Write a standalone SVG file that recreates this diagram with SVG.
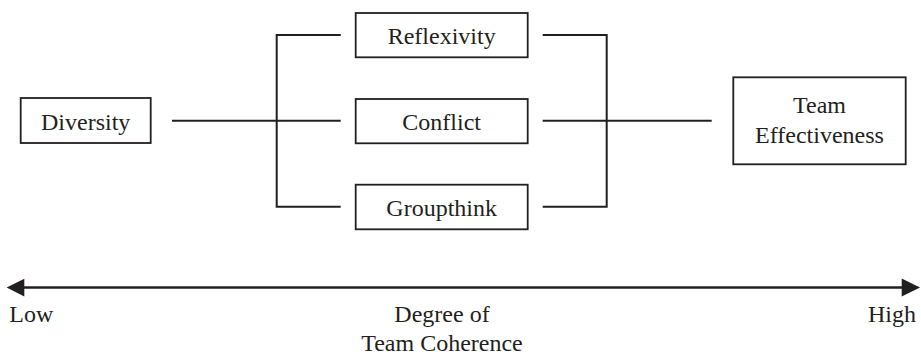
<svg xmlns="http://www.w3.org/2000/svg" width="921" height="354" viewBox="0 0 921 354">
<style>
.box{fill:#fff;stroke:#231f20;stroke-width:1.8}
.t{font-family:"Liberation Serif","Times New Roman",serif;font-size:24px;fill:#231f20;text-anchor:middle}
.b{font-family:"Liberation Serif","Times New Roman",serif;font-size:24px;fill:#231f20}
.c{fill:none;stroke:#231f20;stroke-width:2}
</style>
<rect width="921" height="354" fill="#fff"/>
<g id="connectors">
<path class="c" d="M172,120.7 H340.7"/>
<path class="c" d="M340.7,35 H276.7 V206.7 H340.7"/>
<path class="c" d="M542.7,35 H606.7 V206.7 H542.7"/>
<path class="c" d="M542.7,120.7 H711.7"/>
</g>
<g id="diversity">
<rect class="box" x="20.7" y="98" width="130" height="45"/>
<text class="t" x="85.7" y="130">Diversity</text>
</g>
<g id="reflexivity">
<rect class="box" x="355.7" y="13" width="172" height="44.3"/>
<text class="t" x="441.7" y="43.5">Reflexivity</text>
</g>
<g id="conflict">
<rect class="box" x="355.7" y="99" width="172" height="44.3"/>
<text class="t" x="441.7" y="130">Conflict</text>
</g>
<g id="groupthink">
<rect class="box" x="355.7" y="184.7" width="172" height="44.6"/>
<text class="t" x="441.7" y="215.5">Groupthink</text>
</g>
<g id="team-effectiveness">
<rect class="box" x="733.3" y="77.3" width="172.4" height="87"/>
<text class="t" x="819.5" y="113.3">Team</text>
<text class="t" x="819.5" y="142.7">Effectiveness</text>
</g>
<g id="scale">
<line x1="24" y1="287.5" x2="902" y2="287.5" stroke="#231f20" stroke-width="2.5"/>
<path d="M24.3,278.8 L6.7,287.5 L24.3,296.5 Z" fill="#231f20"/>
<path d="M901.7,278.5 L920,287.5 L901.7,296.5 Z" fill="#231f20"/>
<text class="b" x="9.3" y="321.7">Low</text>
<text class="b" x="916" y="321.7" text-anchor="end">High</text>
<text class="b" x="442" y="321.7" text-anchor="middle">Degree of</text>
<text class="b" x="442" y="350.5" text-anchor="middle">Team Coherence</text>
</g>
</svg>
